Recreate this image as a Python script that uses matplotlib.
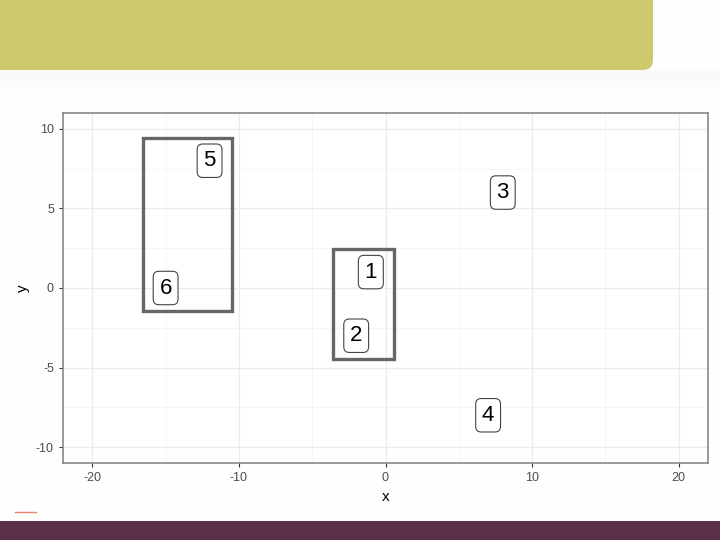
import matplotlib.pyplot as plt
from matplotlib.patches import Rectangle, FancyBboxPatch
import numpy as np

plt.rcParams['font.family'] = ['Liberation Sans', 'DejaVu Sans']
plt.rcParams['axes.unicode_minus'] = False

# label positions
labels = ['1', '2', '3', '4', '5', '6']
xs = [-1, -2, 8, 7, -12, -15]
ys = [1, -3, 6, -8, 8, 0]
# groups that get a rectangle around them
groups = [['5', '6'], ['1', '2']]

x_ticks = [-20, -10, 0, 10, 20]
y_ticks = [-10, -5, 0, 5, 10]

fig = plt.figure(figsize=(7.2, 5.4), dpi=100)
fig.patch.set_facecolor('#fefefe')

# slide decoration
bg = fig.add_axes([0, 0, 1, 1])
bg.set_xlim(0, 720)
bg.set_ylim(540, 0)
bg.axis('off')
bg.add_patch(Rectangle((0, 70), 720, 17, color='#fafafa', lw=0))
bg.add_patch(FancyBboxPatch((-30, -30), 683, 100, boxstyle='round,pad=0,rounding_size=10',
                            color='#cfc96d', lw=0))
bg.add_patch(Rectangle((0, 521), 720, 19, color='#5c2f4a', lw=0))
bg.plot([15, 36], [512, 512], color='#f08070', lw=1)

ax = fig.add_axes([63 / 720, 1 - 463 / 540, 645 / 720, 350 / 540])
ax.set_facecolor('white')
ax.set_xlim(-22, 22)
ax.set_ylim(-11, 11)
ax.set_xticks(x_ticks)
ax.set_yticks(y_ticks)
ax.set_xticks([-15, -5, 5, 15], minor=True)
ax.set_yticks([-7.5, -2.5, 2.5, 7.5], minor=True)
ax.grid(which='major', color='#ebebeb', lw=1)
ax.grid(which='minor', color='#f4f4f4', lw=0.6)
ax.set_axisbelow(True)
ax.tick_params(which='major', colors='#333333', labelcolor='#4d4d4d', labelsize=9, length=3)
ax.tick_params(which='minor', length=0)
for s in ax.spines.values():
    s.set_color('#888888')
    s.set_linewidth(1.2)
ax.set_xlabel('x', fontsize=11, labelpad=4)
ax.set_ylabel('y', fontsize=11, labelpad=4)

pos = dict(zip(labels, zip(xs, ys)))
padx, pady = 1.55, 1.45
for g in groups:
    gx = [pos[k][0] for k in g]
    gy = [pos[k][1] for k in g]
    x0, x1 = min(gx) - padx, max(gx) + padx
    y0, y1 = min(gy) - pady, max(gy) + pady
    ax.add_patch(Rectangle((x0, y0), x1 - x0, y1 - y0, fill=False,
                           edgecolor='#666666', lw=2.4, zorder=3))

for lab, x, y in zip(labels, xs, ys):
    ax.text(x, y, lab, ha='center', va='center', fontsize=16, color='black', zorder=4,
            bbox=dict(boxstyle='round,pad=0.28,rounding_size=0.25', fc='white',
                      ec='#444444', lw=0.8))

fig.savefig('out.png', dpi=100)
